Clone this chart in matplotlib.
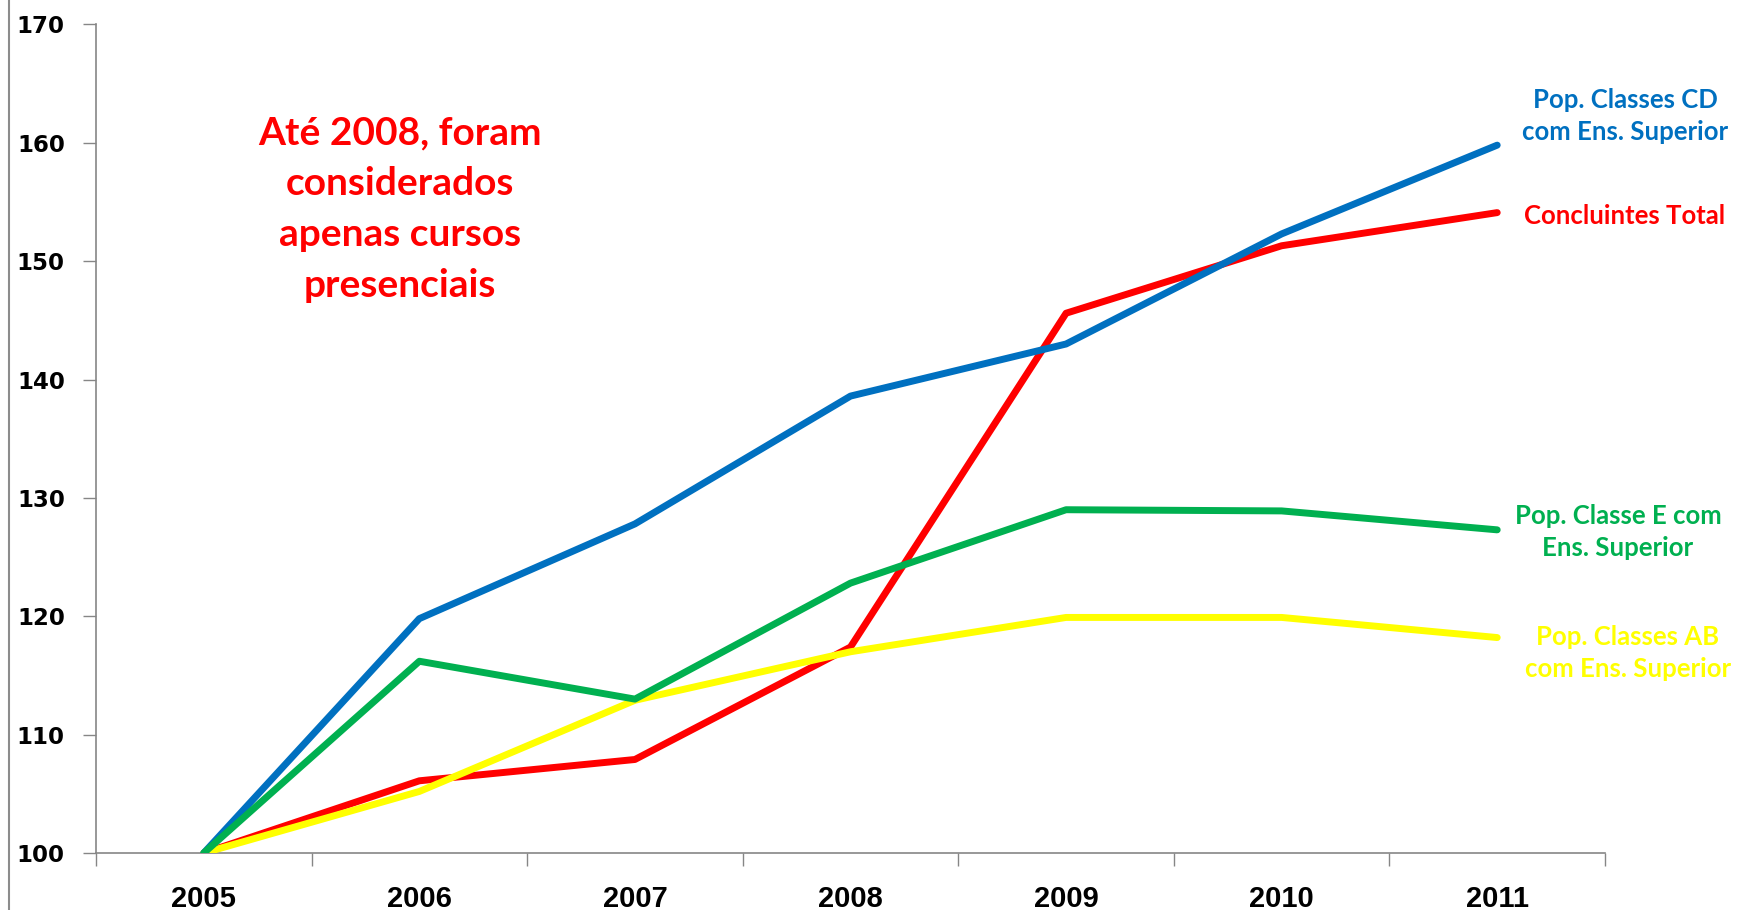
import matplotlib
matplotlib.use("Agg")
import matplotlib.pyplot as plt
from matplotlib.lines import Line2D
import numpy as np

years = ["2005", "2006", "2007", "2008", "2009", "2010", "2011"]
concluintes_total = [100, 106.1, 107.9, 117.4, 145.6, 151.3, 154.1]
classes_cd = [100, 119.8, 127.8, 138.6, 143.0, 152.3, 159.8]
classes_ab = [100, 105.2, 112.9, 117.0, 119.9, 119.9, 118.2]
classe_e = [100, 116.2, 113.0, 122.8, 129.0, 128.9, 127.3]
y_ticks = [100, 110, 120, 130, 140, 150, 160, 170]

C_BLUE = "#0070C0"
C_RED = "#FF0000"
C_GREEN = "#00B050"
C_YELLOW = "#FFFF00"

fig = plt.figure(figsize=(17.37, 9.10), dpi=100)
ax = fig.add_axes([96/1737, 1-853/910, (1605-96)/1737, (853-24.4)/910])

x = np.arange(len(years))
lw = 5.0
ax.plot(x, concluintes_total, color=C_RED, lw=lw, solid_capstyle="round", zorder=3)
ax.plot(x, classes_ab, color=C_YELLOW, lw=lw, solid_capstyle="round", zorder=4)
ax.plot(x, classes_cd, color=C_BLUE, lw=lw, solid_capstyle="round", zorder=5)
ax.plot(x, classe_e, color=C_GREEN, lw=lw, solid_capstyle="round", zorder=6)

ax.set_xlim(-0.5, len(years) - 0.5)
ax.set_ylim(100, 170)
ax.set_yticks(y_ticks)
ax.set_yticklabels([str(v) for v in y_ticks], fontsize=16.5, fontweight="bold",
                   family="DejaVu Sans")
ax.set_xticks(x)
ax.set_xticklabels(years, fontsize=21, fontweight="bold",
                   family="Liberation Sans")
ax.set_xticks(np.arange(-0.5, len(years)), minor=True)
ax.tick_params(axis="x", which="major", length=0, pad=23)
ax.tick_params(axis="x", which="minor", length=9.5, width=1, color="#868686", direction="out")
ax.tick_params(axis="y", which="major", length=9.5, width=1, color="#868686", direction="out", pad=13)

for s in ["top", "right"]:
    ax.spines[s].set_visible(False)
for s in ["left", "bottom"]:
    ax.spines[s].set_color("#868686")
    ax.spines[s].set_linewidth(1.2)

# left border line of the slide
fig.add_artist(Line2D([9/1737, 9/1737], [0, 1], color="#8C8C8C", lw=1.5))

font_lbl = dict(family="Lato", fontweight="bold", ha="center", va="center")
fig.text(1625/1737, 1-116/910, "Pop. Classes CD\ncom Ens. Superior", color=C_BLUE,
         fontsize=18.5, linespacing=1.4, **font_lbl)
fig.text(1625/1737, 1-216/910, "Concluintes Total", color=C_RED,
         fontsize=18.5, **font_lbl)
fig.text(1618/1737, 1-532/910, "Pop. Classe E com\nEns. Superior", color=C_GREEN,
         fontsize=18.5, linespacing=1.4, **font_lbl)
fig.text(1628/1737, 1-653/910, "Pop. Classes AB\ncom Ens. Superior", color=C_YELLOW,
         fontsize=18.5, linespacing=1.4, **font_lbl)

fig.text(400/1737, 1-209/910, "Até 2008, foram\nconsiderados\napenas cursos\npresenciais",
         color=C_RED, fontsize=28, linespacing=1.55, **font_lbl)

fig.savefig("out.png", dpi=100)
